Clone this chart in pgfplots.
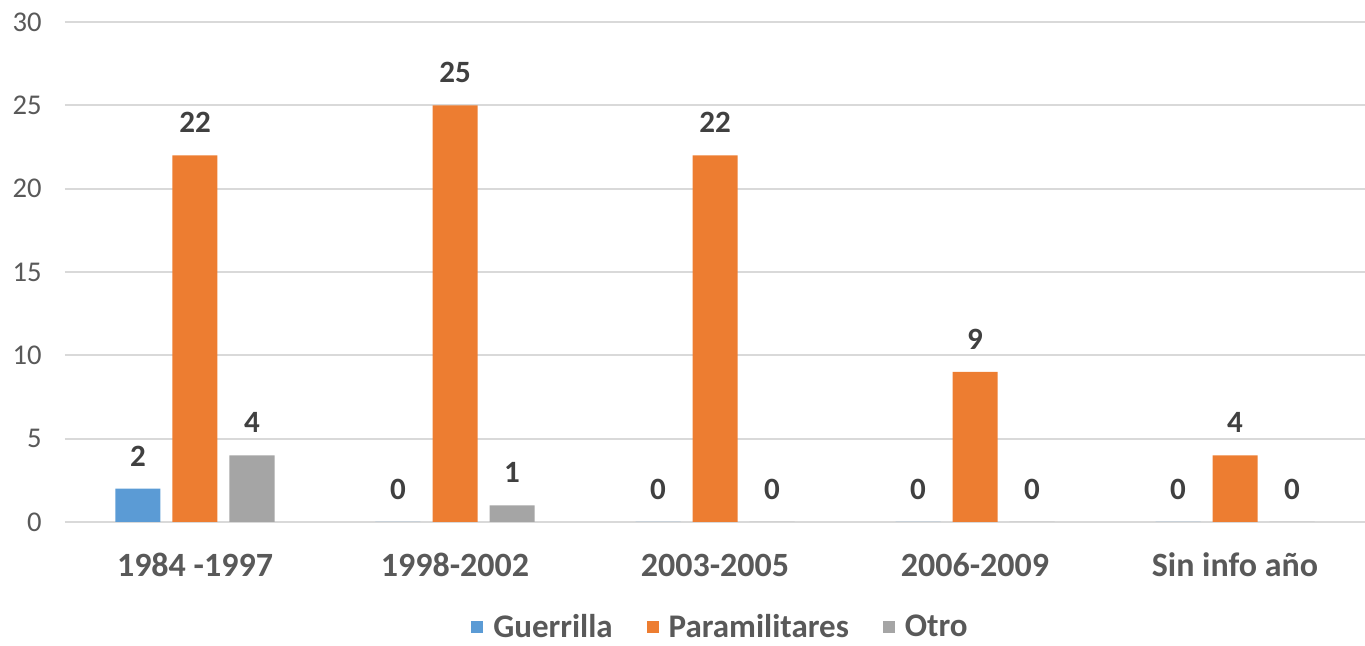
\documentclass[border=0pt]{standalone}
\usepackage{fontspec}
\setmainfont{Carlito}
\usepackage{pgfplots}
\pgfplotsset{compat=1.18}

\definecolor{cGue}{HTML}{5B9BD5}
\definecolor{cPar}{HTML}{ED7D31}
\definecolor{cOtr}{HTML}{A5A5A5}
\definecolor{cGrid}{HTML}{D9D9D9}
\definecolor{cTick}{HTML}{595959}
\definecolor{cLab}{HTML}{404040}

\begin{document}
\begin{tikzpicture}
\useasboundingbox (-32.5pt,-62pt) rectangle (650pt,261pt);
\begin{axis}[
  at={(0,0)}, anchor=south west,
  scale only axis, width=650pt, height=250pt,
  ybar=6pt, bar width=22.5pt,
  xmin=-0.5, xmax=4.5, ymin=0, ymax=30,
  enlargelimits=false, clip=false,
  xtick={0,1,2,3,4},
  xticklabels={1984 -1997,1998-2002,2003-2005,2006-2009,Sin info año},
  ytick={0,5,...,30},
  axis line style={draw=none},
  major tick length=0pt,
  ymajorgrids, grid style={cGrid, line width=1pt},
  /pgf/number format/assume math mode=true,
  xticklabel style={font=\fontsize{17}{20}\selectfont\bfseries, text=cTick,
    anchor=center, yshift=-21.5pt},
  yticklabel style={font=\fontsize{14.3}{16}\selectfont, text=cTick,
    anchor=east, inner sep=0pt, xshift=-11.5pt},
  nodes near coords,
  every node near coord/.append style={font=\fontsize{15.5}{18}\selectfont\bfseries,
    text=cLab, anchor=south, inner sep=0pt, yshift=11pt},
  ybar legend/.style={},
  legend columns=3,
  legend style={draw=none, fill=none, at={(0.505,-0.21)}, anchor=center,
    inner sep=0pt, nodes={inner ysep=0pt},
    font=\fontsize{16.5}{19}\selectfont\bfseries, text=cTick,
    /tikz/every odd column/.append style={column sep=3pt},
    /tikz/every even column/.append style={column sep=15pt}},
]
\addplot[fill=cGue, draw=none,
  legend image code/.code={\fill[cGue] (0pt,-3pt) rectangle (6pt,3pt);}]
  coordinates {(0,2) (1,0) (2,0) (3,0) (4,0)};
\addplot[fill=cPar, draw=none,
  legend image code/.code={\fill[cPar] (0pt,-3pt) rectangle (6pt,3pt);}]
  coordinates {(0,22) (1,25) (2,22) (3,9) (4,4)};
\addplot[fill=cOtr, draw=none,
  legend image code/.code={\fill[cOtr] (0pt,-3pt) rectangle (6pt,3pt);}]
  coordinates {(0,4) (1,1) (2,0) (3,0) (4,0)};
\legend{Guerrilla,Paramilitares,Otro}
\end{axis}
\end{tikzpicture}
\end{document}
